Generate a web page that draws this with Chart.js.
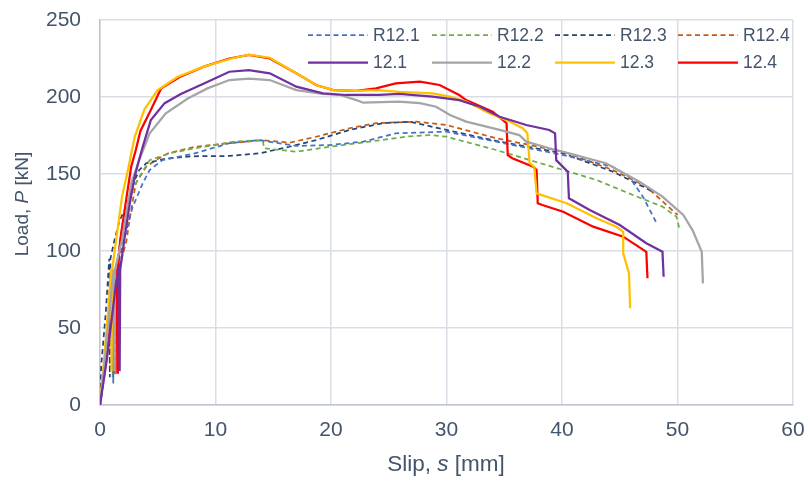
<!DOCTYPE html>
<html>
<head>
<meta charset="utf-8">
<script src="https://cdn.jsdelivr.net/npm/chart.js@4.4.1/dist/chart.umd.min.js"></script>
<style>
html,body{margin:0;padding:0;background:#fff;}
#wrap{width:809px;height:482px;position:relative;}
</style>
</head>
<body>
<div id="wrap"><canvas id="c" width="809" height="482"></canvas></div>
<script>
// ---- Data (slip s [mm], load P [kN]) ----
const seriesNames = ["R12.1","R12.2","R12.3","R12.4","12.1","12.2","12.3","12.4"];

const sR121 = [0,0.3,0.9,1.1,1.15,1.2,2.0,2.8,3.7,4.3,5.4,8.2,11.2,13.8,17.0,19.9,22.8,25.6,30.0,34.3,40.1,44.4,45.8,47.0,48.2];
const pR121 = [0,15,50,80,14,80,105,128,144,152.6,159,163.4,170,172,168.2,168.8,171,176.4,177.5,171,162.3,154.7,148.3,135.3,118];

const sR122 = [0,0.3,0.8,1.05,1.1,1.15,2.0,2.8,3.4,4.3,6.0,8.2,11.6,14.1,14.2,17.0,19.9,22.8,26.8,28.5,30.0,34.3,40.1,43.0,45.8,48.7,49.9,50.2];
const pR122 = [0,18,50,75,18,75,120,139.6,148,159,163.4,166.7,171,172,166.7,164.5,167.7,170.5,174.5,175.3,174.2,165.6,152.6,146.1,137.4,128.8,122.3,113.6];

const sR123 = [0,0.1,0.5,0.8,0.85,0.9,1.25,1.7,2.3,3.0,3.4,4.0,5.7,8.0,11.2,13.8,16.4,18.7,21.6,24.5,26.8,30.0,34.3,40.1,44.4,47.9];
const pR123 = [0,25,60,95,18,95,107,120,128.8,146,152.6,157,160,161.5,161.7,163.4,167.7,172,178.6,183,184,178.6,171.5,163.4,151.5,138.5];

const sR124 = [0,0.4,1.0,1.25,1.3,1.35,2.3,2.55,3.1,4.0,4.8,5.9,8.2,11.2,14.1,16.4,18.7,21.6,23.9,27.4,30.0,34.3,40.1,44.4,47.3,50.0];
const pR124 = [0,20,60,80,20,80,107,120,144,154.7,159,163.4,167.7,170,172,170.3,174.2,179.7,183,184,181.8,173.2,164.5,152.6,141.8,123.4];

const s121 = [0,0.6,1.4,1.65,1.7,1.75,2.1,2.6,3.0,3.3,3.7,4.4,5.6,7.0,9.0,11.2,12.9,14.7,17.0,19.3,21.3,24.2,25.9,28.8,31.1,32.9,34.6,36.9,38.9,39.4,39.5,40.5,40.6,42.4,45.0,47.3,48.7,48.8];
const p121 = [0,30,80,88,22,88,107,132,148,157,167.7,185,196,202,208.8,216.4,217.5,215.4,206.7,202.4,201.3,201.3,202,200.2,198,193.7,187.2,181.8,178.6,176.4,159,151.5,134.2,126.6,116.9,105,99.5,83.3];

const s122 = [0,0.5,1.0,1.2,1.25,1.3,1.9,2.7,3.4,4.3,5.7,7.6,9.3,11.2,12.9,14.7,17.0,19.3,20.8,22.2,22.8,25.9,27.7,29.1,30.3,31.7,34.6,36.3,36.9,38.9,40.6,43.8,46.7,48.7,50.5,51.3,52.1,52.2];
const p122 = [0,35,75,88,22,88,107,144,159,176.4,189.4,199,205.6,211,212,211,204.5,202,201.3,198,196.3,197,196,193.7,188.3,184,178.6,175.3,171,166.7,163.4,157,145,135.3,123.4,113.6,99.5,79];

const s123 = [0,0.3,0.8,0.95,1.0,1.05,1.4,1.9,2.4,2.7,3.0,3.85,5.0,6.7,9.0,11.4,12.9,14.7,17.0,18.7,20.2,22.2,24.0,25.9,28.8,30.3,31.7,33.7,35.2,36.6,37.0,37.2,37.6,37.8,40.4,43.0,44.7,45.3,45.3,45.8,45.9];
const p123 = [0,25,70,88,22,88,107,135,152,163,174,192,204.5,213,219.7,225,227.5,225.5,215.4,207.8,204.5,204,204.5,203.4,202.4,200.2,197,189.4,185,179.7,176.4,157,154.7,137.4,131,121.2,115.8,112.5,98.5,85.5,62.8];

const s124 = [0,0.5,1.2,1.45,1.5,1.55,1.75,2.3,2.7,3.1,3.5,4.4,5.3,6.9,9.0,11.2,12.9,14.7,17.0,18.7,20.2,22.2,23.9,25.6,27.7,29.4,31.1,31.7,34.0,35.2,35.3,35.7,37.5,37.8,37.9,38.3,40.1,42.7,45.3,47.3,47.4];
const p124 = [0,30,75,88,21,88,107,135,154.7,165.6,178,191.6,205.6,213,219.7,225,227.3,225,215.4,207.8,204.5,204,205.6,208.9,210,207.8,201.3,198,190.5,183,162.3,160.2,154.7,152.6,131,129.9,125.5,115.8,109.3,99.5,82.3];

const xTicks = [0,10,20,30,40,50,60];
const yTicks = [0,50,100,150,200,250];

// ---- Styles ----
const TXT = '#44546A';
const FONT = '"Liberation Sans", Arial, sans-serif';
const colors = ['#4472C4','#70AD47','#264478','#C55A11','#7030A0','#A5A5A5','#FFC000','#FF0000'];
const dashed = [true,true,true,true,false,false,false,false];
const sArr = [sR121,sR122,sR123,sR124,s121,s122,s123,s124];
const pArr = [pR121,pR122,pR123,pR124,p121,p122,p123,p124];

const datasets = seriesNames.map((n,i)=>({
  label:n,
  data: sArr[i].map((s,k)=>({x:s,y:pArr[i][k]})),
  borderColor: colors[i],
  backgroundColor: colors[i],
  borderWidth: dashed[i] ? 1.75 : 2.25,
  borderDash: dashed[i] ? [5,3.5] : [],
  pointRadius: 0,
  showLine: true,
  tension: 0,
  order: dashed[i] ? 1 : 0
}));

const legendPlugin = {
  id:'customLegend',
  afterDraw(chart){
    const ctx = chart.ctx;
    const cols = [308,432,555,678];
    const rows = [35,62.5];
    ctx.save();
    ctx.font = '17.5px ' + FONT;
    ctx.textBaseline = 'middle';
    ctx.textAlign = 'left';
    seriesNames.forEach((n,i)=>{
      const c = i%4, r = Math.floor(i/4);
      const x0 = cols[c], y0 = rows[r];
      ctx.strokeStyle = colors[i];
      ctx.lineWidth = dashed[i] ? 1.75 : 2.25;
      ctx.setLineDash(dashed[i] ? [5,3.5] : []);
      ctx.beginPath(); ctx.moveTo(x0,y0); ctx.lineTo(x0+60,y0); ctx.stroke();
      ctx.setLineDash([]);
      ctx.fillStyle = TXT;
      ctx.fillText(n, x0+65, y0+1);
    });
    function mixed(parts, x, y, size){
      let total = 0;
      parts.forEach(p=>{ctx.font=(p[1]?'italic ':'')+size+'px '+FONT; total+=ctx.measureText(p[0]).width;});
      let cx = x - total/2;
      parts.forEach(p=>{ctx.font=(p[1]?'italic ':'')+size+'px '+FONT; ctx.fillText(p[0],cx,y); cx+=ctx.measureText(p[0]).width;});
    }
    ctx.fillStyle = TXT;
    ctx.textBaseline = 'middle';
    mixed([['Slip, ',false],['s',true],[' [mm]',false]], 446, 465, 22.5);
    ctx.translate(23, 204);
    ctx.rotate(-Math.PI/2);
    mixed([['Load, ',false],['P',true],[' [kN]',false]], 0, 0, 19);
    ctx.restore();
  }
};

new Chart(document.getElementById('c'), {
  type:'scatter',
  data:{datasets},
  options:{
    responsive:false,
    animation:false,
    devicePixelRatio:1,
    layout:{padding:{top:20,right:16,left:0,bottom:0}},
    plugins:{legend:{display:false},tooltip:{enabled:false},title:{display:false}},
    scales:{
      x:{
        type:'linear', min:0, max:60,
        afterFit(s){s.height=77; s.paddingLeft=0; s.paddingRight=0;},
        afterBuildTicks(s){s.ticks = xTicks.map(v=>({value:v}));},
        grid:{color:'#D9DEE6', lineWidth:1.5, drawTicks:false},
        border:{color:'#BFC6D3', width:1.5},
        ticks:{color:TXT, font:{family:FONT,size:21}, padding:13, maxRotation:0}
      },
      y:{
        type:'linear', min:0, max:250,
        afterFit(s){s.width=100; s.paddingTop=0; s.paddingBottom=0;},
        afterBuildTicks(s){s.ticks = yTicks.map(v=>({value:v}));},
        grid:{color:'#D9DEE6', lineWidth:1.5, drawTicks:false},
        border:{color:'#BFC6D3', width:1.5},
        ticks:{color:TXT, font:{family:FONT,size:21}, padding:19}
      }
    }
  },
  plugins:[legendPlugin]
});
</script>
</body>
</html>
